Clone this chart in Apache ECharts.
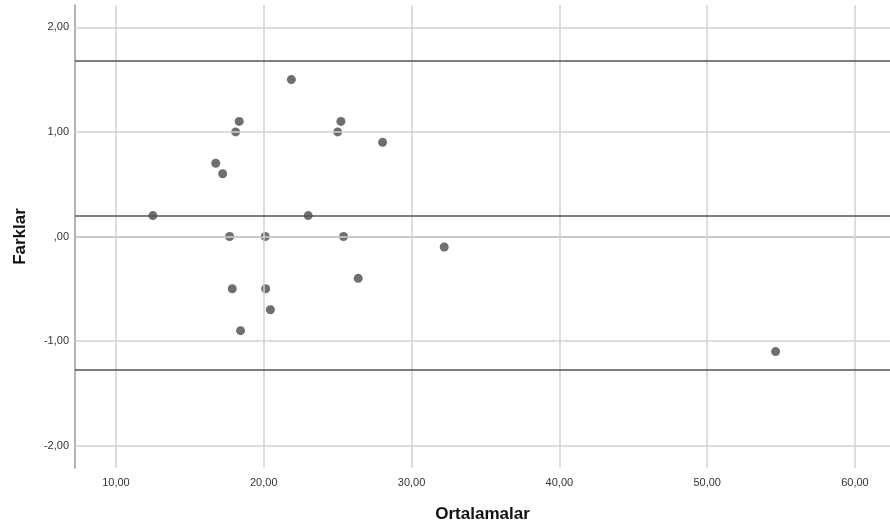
<!DOCTYPE html>
<html>
<head>
<meta charset="utf-8">
<script src="https://cdn.jsdelivr.net/npm/echarts@6/dist/echarts.min.js"></script>
<style>html,body{margin:0;padding:0;background:#fff;}#c{width:890px;height:526px;}</style>
</head>
<body>
<div id="c"></div>
<script>
// Data (Bland-Altman plot)
var meanValues = [12.50, 16.75, 17.22, 18.10, 18.34, 17.69, 20.10, 21.87, 17.87, 20.13, 20.45, 18.43, 25.22, 25.00, 28.04, 23.01, 25.40, 26.39, 32.21, 54.63];
var diffValues = [0.2, 0.7, 0.6, 1.0, 1.1, 0.0, 0.0, 1.5, -0.5, -0.5, -0.7, -0.9, 1.1, 1.0, 0.9, 0.2, 0.0, -0.4, -0.1, -1.1];
var limitLines = [1.678, 0.205, -1.268];
var xTicks = [10, 20, 30, 40, 50, 60];
var yTicks = [-2, -1, 0, 1, 2];
var xTitle = 'Ortalamalar';
var yTitle = 'Farklar';

function fmt(v) {
  var s = Math.abs(v).toFixed(2).replace('.', ',');
  if (Math.abs(v) < 1) s = s.replace(/^0/, '');
  return (v < 0 ? '-' : '') + s;
}

var points = meanValues.map(function (m, i) { return [m, diffValues[i]]; });
var gridMarks = xTicks.map(function (v) { return { xAxis: v }; })
  .concat(yTicks.map(function (v) { return { yAxis: v }; }));

var chart = echarts.init(document.getElementById('c'), null, { renderer: 'canvas' });
chart.setOption({
  animation: false,
  backgroundColor: '#ffffff',
  grid: { left: 75, right: 0, top: 5, bottom: 58, containLabel: false, outerBoundsMode: 'none' },
  xAxis: {
    type: 'value', min: 7.23, max: 62.37,
    name: xTitle, nameLocation: 'middle', nameGap: 38,
    nameTextStyle: { fontFamily: 'Liberation Sans, Arial', fontWeight: 'bold', fontSize: 17, color: '#111' },
    axisLine: { show: true, lineStyle: { color: '#9a9a9a', width: 1.5 } },
    axisTick: { show: false },
    splitLine: { show: false },
    axisLabel: {
      customValues: xTicks, formatter: fmt, margin: 9,
      fontFamily: 'Liberation Sans, Arial', fontSize: 11, color: '#333'
    }
  },
  yAxis: {
    type: 'value', min: -2.213, max: 2.213,
    name: yTitle, nameLocation: 'middle', nameGap: 46, nameRotate: 90,
    nameTextStyle: { fontFamily: 'Liberation Sans, Arial', fontWeight: 'bold', fontSize: 17, color: '#111' },
    axisLine: { show: true, lineStyle: { color: '#9a9a9a', width: 1.5 } },
    axisTick: { show: false },
    splitLine: { show: false },
    axisLabel: {
      customValues: yTicks, formatter: fmt, margin: 6,
      fontFamily: 'Liberation Sans, Arial', fontSize: 11, color: '#333'
    }
  },
  series: [
    {
      type: 'scatter', data: [], z: 1, silent: true,
      markLine: {
        silent: true, symbol: 'none', label: { show: false },
        lineStyle: { color: '#d2d2d2', width: 1.5, type: 'solid' },
        data: gridMarks
      }
    },
    {
      type: 'scatter', data: [], z: 2, silent: true,
      markLine: {
        silent: true, symbol: 'none', label: { show: false },
        lineStyle: { color: '#555555', width: 1.5, type: 'solid' },
        data: limitLines.map(function (v) { return { yAxis: v }; })
      }
    },
    {
      type: 'scatter', z: 3, data: points, symbol: 'circle', symbolSize: 9,
      itemStyle: { color: '#6f6f6f', opacity: 1 }
    }
  ]
});
</script>
</body>
</html>
